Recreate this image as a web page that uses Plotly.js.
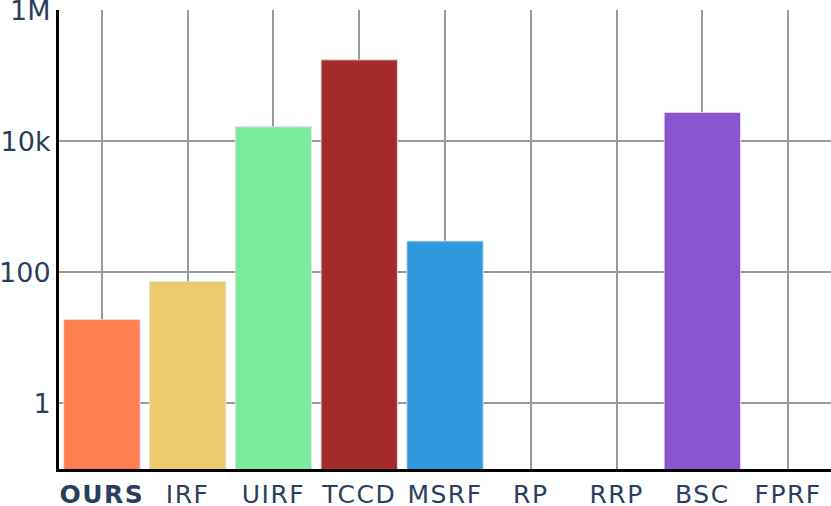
<!DOCTYPE html>
<html>
<head>
<meta charset="utf-8">
<script src="https://cdn.plot.ly/plotly-3.0.1.min.js"></script>
<style>
html,body{margin:0;padding:0;background:#fff}
#chart{width:831px;height:506px}
#chart .xtick text{letter-spacing:1.5px}
</style>
</head>
<body>
<div id="chart"></div>
<script>
const categories = ["OURS", "IRF", "UIRF", "TCCD", "MSRF", "RP", "RRP", "BSC", "FPRF"];
const tickLabels = ["<b>OURS</b>", "IRF", "UIRF", "TCCD", "MSRF", "RP", "RRP", "BSC", "FPRF"];
const values = [19, 72.6, 16600, 174000, 300, null, null, 27500, null];
const colors = ["#FF7F50", "#EBCB6B", "#7BEB9B", "#A52A2A", "#2E99DD", "#888888", "#888888", "#8A56D0", "#888888"];
const yTickVals = [1, 100, 10000, 1000000];
const yTickText = ["1", "100", "10k", "1M"];

const trace = {
  type: "bar",
  x: categories,
  y: values,
  marker: {color: colors, line: {color: "rgba(225,225,235,0.9)", width: 1}},
  hoverinfo: "x+y"
};

const layout = {
  width: 831, height: 506,
  margin: {l: 59, r: 0, t: 10, b: 37, pad: 0},
  paper_bgcolor: "#fff", plot_bgcolor: "#fff",
  showlegend: false,
  bargap: 0.11,
  font: {family: "DejaVu Sans, Verdana, sans-serif", color: "#2a3f5f"},
  xaxis: {
    type: "category",
    tickvals: categories, ticktext: tickLabels,
    tickfont: {size: 25},
    ticklabelstandoff: 1,
    ticklabeloverflow: "allow",
    showgrid: true, gridcolor: "#999", gridwidth: 2,
    showline: true, linecolor: "#000", linewidth: 3,
    ticks: "",
    zeroline: false
  },
  yaxis: {
    type: "log",
    range: [-1, 6.001],
    tickvals: yTickVals, ticktext: yTickText,
    tickfont: {size: 27},
    ticklabeloverflow: "allow",
    showgrid: true, gridcolor: "#999", gridwidth: 2,
    showline: true, linecolor: "#000", linewidth: 3,
    ticks: "",
    zeroline: false
  }
};

Plotly.newPlot("chart", [trace], layout, {displayModeBar: false, staticPlot: true});
</script>
</body>
</html>
